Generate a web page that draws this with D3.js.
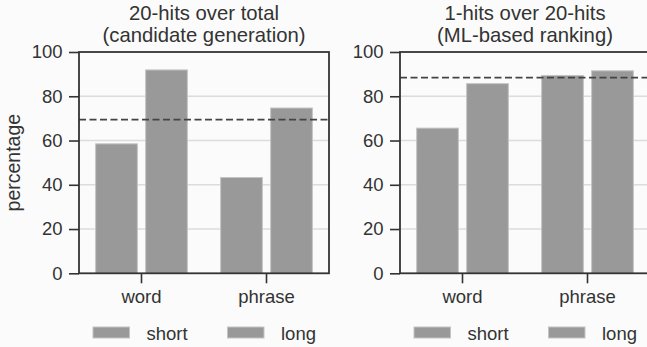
<!DOCTYPE html>
<html>
<head>
<meta charset="utf-8">
<script src="https://cdn.jsdelivr.net/npm/d3@7/dist/d3.min.js"></script>
<style>
  html, body { margin: 0; padding: 0; background: #fbfbfb; }
  svg { display: block; font-family: "Liberation Sans", Arial, sans-serif; }
</style>
</head>
<body>
<svg id="chart" width="647" height="347"></svg>
<script>
// Categories and series
const categories = ["word", "phrase"];
const seriesNames = ["short", "long"];

// Panel 1: 20-hits over total (candidate generation)
const candShort = [58.5, 43.3];
const candLong = [91.9, 74.7];
const candOverall = 69.4;

// Panel 2: 1-hits over 20-hits (ML-based ranking)
const rankShort = [65.6, 89.4];
const rankLong = [85.7, 91.5];
const rankOverall = 88.4;

const yTicks = [0, 20, 40, 60, 80, 100];

const panels = [
  { title: ["20-hits over total", "(candidate generation)"], values: [candShort, candLong], overall: candOverall, left: 79, ylabel: "percentage" },
  { title: ["1-hits over 20-hits", "(ML-based ranking)"], values: [rankShort, rankLong], overall: rankOverall, left: 400, ylabel: null }
];

const svg = d3.select("#chart");
const plotTop = 52, plotH = 221.3, plotW = 250;
const ink = "#333333";
const barFill = "#999999";
const labelSize = 18.5, titleSize = 20.3;

const y = d3.scaleLinear().domain([0, 100]).range([plotH, 0]);

panels.forEach(p => {
  const g = svg.append("g").attr("transform", `translate(${p.left},${plotTop})`);

  const x0 = d3.scaleBand().domain(categories).range([0, plotW]).padding(0);
  const x1 = d3.scaleBand().domain(seriesNames)
    .range([x0.bandwidth() * 0.1, x0.bandwidth() * 0.9]).padding(0);
  const inset = x1.bandwidth() * 0.083;

  // horizontal grid
  g.append("g").selectAll("line").data(yTicks.filter(t => t > 0 && t < 100)).join("line")
    .attr("x1", 0).attr("x2", plotW)
    .attr("y1", d => y(d)).attr("y2", d => y(d))
    .attr("stroke", "#dcdcdc").attr("stroke-width", 1.5);

  // bars
  seriesNames.forEach((s, si) => {
    g.append("g").selectAll("rect").data(categories).join("rect")
      .attr("x", c => x0(c) + x1(s) + inset)
      .attr("width", x1.bandwidth() - 2 * inset)
      .attr("y", (c, i) => y(p.values[si][i]))
      .attr("height", (c, i) => y(0) - y(p.values[si][i]))
      .attr("fill", barFill)
      .attr("stroke", "#c4c4c4").attr("stroke-width", 1);
  });

  // overall reference line
  g.append("line")
    .attr("x1", 0).attr("x2", plotW)
    .attr("y1", y(p.overall)).attr("y2", y(p.overall))
    .attr("stroke", "#444").attr("stroke-width", 1.8)
    .attr("stroke-dasharray", "7,3.5");

  // frame
  g.append("rect").attr("x", 0).attr("y", 0).attr("width", plotW).attr("height", plotH)
    .attr("fill", "none").attr("stroke", ink).attr("stroke-width", 1.8);

  // y axis
  const yAxis = g.append("g").call(d3.axisLeft(y).tickValues(yTicks).tickSize(10).tickPadding(6.5));
  yAxis.select(".domain").remove();
  yAxis.selectAll("line").attr("stroke", ink).attr("stroke-width", 1.6);
  yAxis.selectAll("text").attr("fill", ink).attr("font-size", labelSize)
    .attr("font-family", "Liberation Sans, Arial, sans-serif");

  // x axis
  const xAxis = g.append("g").attr("transform", `translate(0,${plotH})`)
    .call(d3.axisBottom(x0).tickSize(10).tickPadding(7));
  xAxis.select(".domain").remove();
  xAxis.selectAll("line").attr("stroke", ink).attr("stroke-width", 1.6);
  xAxis.selectAll("text").attr("fill", ink).attr("font-size", labelSize)
    .attr("font-family", "Liberation Sans, Arial, sans-serif");

  // title
  p.title.forEach((t, i) => {
    svg.append("text")
      .attr("x", p.left + plotW / 2).attr("y", 20 + i * 22)
      .attr("text-anchor", "middle").attr("fill", ink)
      .attr("font-size", titleSize).text(t);
  });

  // y label
  if (p.ylabel) {
    svg.append("text")
      .attr("transform", `translate(20,${plotTop + plotH / 2}) rotate(-90)`)
      .attr("text-anchor", "middle").attr("fill", ink)
      .attr("font-size", 19.5).text(p.ylabel);
  }

  // legend
  const lg = svg.append("g").attr("transform", `translate(${p.left + 14},327)`);
  seriesNames.forEach((s, si) => {
    const item = lg.append("g").attr("transform", `translate(${si * 134.5},0)`);
    item.append("rect").attr("x", 0).attr("y", 0).attr("width", 36.5).attr("height", 11)
      .attr("fill", barFill).attr("stroke", "#c4c4c4").attr("stroke-width", 1);
    item.append("text").attr("x", 53.5).attr("y", 12.5).attr("fill", ink)
      .attr("font-size", labelSize).text(s);
  });
});
</script>
</body>
</html>
